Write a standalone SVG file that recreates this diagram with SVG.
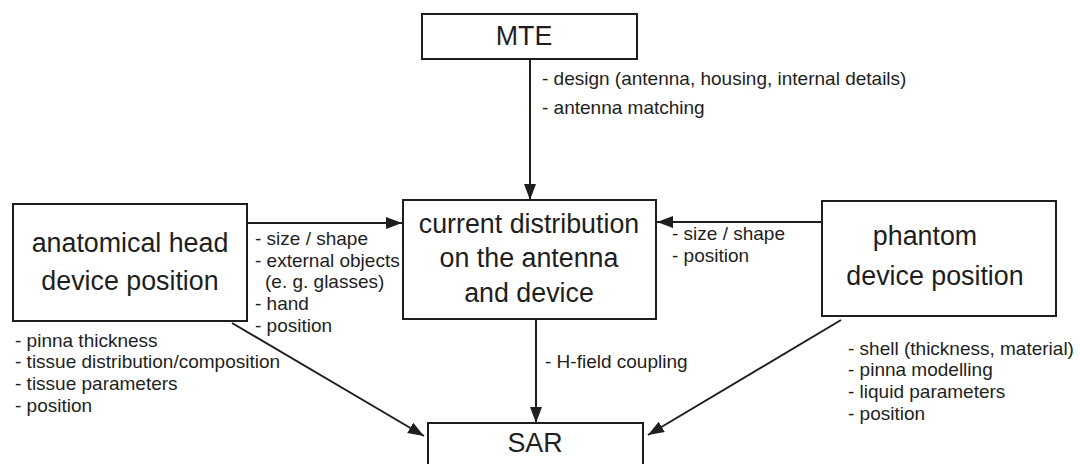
<svg xmlns="http://www.w3.org/2000/svg" width="1080" height="464" viewBox="0 0 1080 464">
<style>
.box{fill:#fff;stroke:#1e1e1e;stroke-width:2}
.big{font-family:"Liberation Sans",Arial,sans-serif;font-size:26.8px;fill:#1e1e1e}
.lbl{font-family:"Liberation Sans",Arial,sans-serif;font-size:19px;fill:#1e1e1e}
.con{stroke:#1e1e1e;stroke-width:2;fill:none;marker-end:url(#arr)}
</style>
<defs>
<marker id="arr" markerUnits="userSpaceOnUse" markerWidth="17" markerHeight="13" refX="16" refY="6" orient="auto">
<path d="M0,0 L16,6 L0,12 z" fill="#1e1e1e"/>
</marker>
</defs>
<rect width="1080" height="464" fill="#fff"/>
<g id="connectors">
<line class="con" x1="530" y1="59" x2="530" y2="200"/>
<line class="con" x1="247" y1="223" x2="402" y2="223"/>
<line class="con" x1="822" y1="222" x2="657" y2="222"/>
<line class="con" x1="232" y1="323" x2="424" y2="436"/>
<line class="con" x1="536" y1="319" x2="536" y2="423"/>
<line class="con" x1="841" y1="320" x2="648" y2="435"/>
</g>
<g id="mte">
<rect class="box" x="422" y="14" width="215" height="45"/>
<text class="big" x="524" y="45" text-anchor="middle">MTE</text>
</g>
<g id="mte-labels">
<text class="lbl" x="542" y="85">- design (antenna, housing, internal details)</text>
<text class="lbl" x="542" y="114">- antenna matching</text>
</g>
<g id="head">
<rect class="box" x="13" y="204" width="234" height="117"/>
<text class="big" x="130" y="252" text-anchor="middle">anatomical head</text>
<text class="big" x="130" y="290" text-anchor="middle">device position</text>
</g>
<g id="head-labels">
<text class="lbl" x="255" y="245">- size / shape</text>
<text class="lbl" x="255" y="267">- external objects</text>
<text class="lbl" x="265" y="288">(e. g. glasses)</text>
<text class="lbl" x="255" y="310">- hand</text>
<text class="lbl" x="255" y="332">- position</text>
<text class="lbl" x="15" y="347">- pinna thickness</text>
<text class="lbl" x="15" y="368">- tissue distribution/composition</text>
<text class="lbl" x="15" y="390">- tissue parameters</text>
<text class="lbl" x="15" y="412">- position</text>
</g>
<g id="current">
<rect class="box" x="403" y="200" width="253" height="119"/>
<text class="big" x="529" y="233" text-anchor="middle">current distribution</text>
<text class="big" x="529" y="267" text-anchor="middle">on the antenna</text>
<text class="big" x="529" y="302" text-anchor="middle">and device</text>
</g>
<g id="phantom">
<rect class="box" x="822" y="201" width="234" height="115"/>
<text class="big" x="925" y="245" text-anchor="middle">phantom</text>
<text class="big" x="935" y="285" text-anchor="middle">device position</text>
</g>
<g id="phantom-labels">
<text class="lbl" x="672" y="240">- size / shape</text>
<text class="lbl" x="672" y="262">- position</text>
<text class="lbl" x="848" y="355">- shell (thickness, material)</text>
<text class="lbl" x="848" y="376">- pinna modelling</text>
<text class="lbl" x="848" y="398">- liquid parameters</text>
<text class="lbl" x="848" y="420">- position</text>
</g>
<g id="coupling-label">
<text class="lbl" x="545" y="368">- H-field coupling</text>
</g>
<g id="sar">
<rect class="box" x="428" y="423" width="215" height="60"/>
<text class="big" x="535" y="452" text-anchor="middle">SAR</text>
</g>
</svg>
